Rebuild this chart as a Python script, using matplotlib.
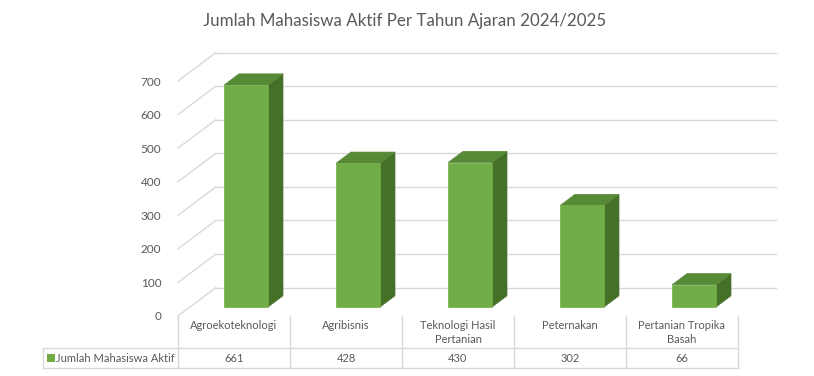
import matplotlib.pyplot as plt
from matplotlib.patches import Polygon

categories = ['Agroekoteknologi', 'Agribisnis', 'Teknologi Hasil\nPertanian',
              'Peternakan', 'Pertanian Tropika\nBasah']
values = [661, 428, 430, 302, 66]
series_name = 'Jumlah Mahasiswa Aktif'
title = 'Jumlah Mahasiswa Aktif Per Tahun Ajaran 2024/2025'
yticks = [0, 100, 200, 300, 400, 500, 600, 700]

plt.rcParams['font.family'] = ['Lato', 'DejaVu Sans']
txt = '#595959'
grid = '#d9d9d9'
c_front, c_top, c_side = '#70ad47', '#578a37', '#467028'

W, H = 814, 376
fig = plt.figure(figsize=(W / 100, H / 100), dpi=100)
ax = fig.add_axes([178 / W, 60 / H, 560 / W, 235 / H])
n = len(categories)
ax.set_xlim(-0.5, n - 0.5)
ax.set_ylim(0, 700)
for s in ax.spines.values():
    s.set_visible(False)
ax.set_xticks([])
ax.set_yticks(yticks)
ax.tick_params(axis='y', length=0, pad=12, labelsize=8.5, labelcolor=txt)

# depth of the box in pixels, converted to data units
px_x = 560 / n
px_y = 235 / 700
Dx, Dy = 38 / px_x, 28.5 / px_y

for v in yticks:
    ax.plot([-0.5, -0.5 + Dx], [v, v + Dy], color=grid, lw=1, clip_on=False, zorder=1)
    ax.plot([-0.5 + Dx, n - 0.5 + Dx], [v + Dy, v + Dy], color=grid, lw=1,
            clip_on=False, zorder=1)

# bars
w = 44 / px_x
f1, f2 = 0.32, 0.71
for i, v in enumerate(values):
    x0 = i - w / 2 + f1 * Dx
    x1 = i + w / 2 + f1 * Dx
    y0 = f1 * Dy
    ox, oy = (f2 - f1) * Dx, (f2 - f1) * Dy
    front = [(x0, y0), (x1, y0), (x1, y0 + v), (x0, y0 + v)]
    side = [(x1, y0), (x1 + ox, y0 + oy), (x1 + ox, y0 + v + oy), (x1, y0 + v)]
    top = [(x0, y0 + v), (x1, y0 + v), (x1 + ox, y0 + v + oy), (x0 + ox, y0 + v + oy)]
    for pts, c in [(side, c_side), (top, c_top), (front, c_front)]:
        ax.add_patch(Polygon(pts, closed=True, facecolor=c, edgecolor=c, lw=0.5,
                             clip_on=False, zorder=3))

# data table below the chart
r1 = -32 / 235
r2 = -52 / 235
left = -0.5 - 135 / px_x
lk = dict(color=grid, lw=1, clip_on=False, zorder=1)
for k in range(n + 1):
    ax.plot([k - 0.5, k - 0.5], [0, r2 * 700], **lk)
ax.plot([left, n - 0.5], [r1 * 700, r1 * 700], **lk)
ax.plot([left, n - 0.5], [r2 * 700, r2 * 700], **lk)
ax.plot([left, left], [r1 * 700, r2 * 700], **lk)

for i, (c, v) in enumerate(zip(categories, values)):
    ax.text(i, -4 / px_y, c, ha='center', va='top', fontsize=8, color=txt,
            linespacing=1.35)
    ax.text(i, (r1 + r2) / 2 * 700, str(v), ha='center', va='center', fontsize=8,
            color=txt)

ym = (r1 + r2) / 2 * 700
ax.add_patch(Polygon([(left + 4 / px_x, ym - 4 / px_y), (left + 12 / px_x, ym - 4 / px_y),
                      (left + 12 / px_x, ym + 4 / px_y), (left + 4 / px_x, ym + 4 / px_y)],
                     closed=True, facecolor=c_front, edgecolor='none', clip_on=False))
ax.text(left + 13 / px_x, ym, series_name, ha='left', va='center',
        fontsize=8, color=txt)

fig.text(405 / W, 1 - 21 / H, title, ha='center', va='center', fontsize=12.2, color=txt)

fig.savefig('out.png', dpi=100)
